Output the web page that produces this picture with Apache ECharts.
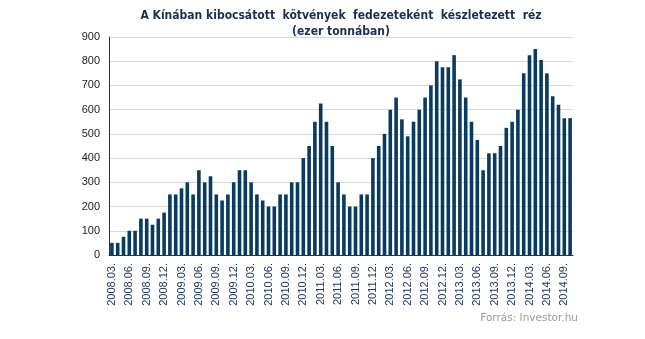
<!DOCTYPE html>
<html>
<head>
<meta charset="utf-8">
<script src="https://cdn.jsdelivr.net/npm/echarts@6/dist/echarts.min.js"></script>
<style>
  html, body { margin: 0; padding: 0; background: #fff; }
  #chart { width: 645px; height: 339px; }
</style>
</head>
<body>
<div id="chart"></div>
<script>
// Monthly copper stock held as collateral for bonds issued in China (thousand tonnes)
const startYear = 2008;
const startMonth = 3;
const stockValues = [
  50, 50, 75, 100, 100, 150, 150, 125, 150, 175,          // 2008.03 – 2008.12
  250, 250, 275, 300, 250, 350, 300, 325, 250, 225, 250, 300, // 2009
  350, 350, 300, 250, 225, 200, 200, 250, 250, 300, 300, 400, // 2010
  450, 550, 625, 550, 450, 300, 250, 200, 200, 250, 250, 400, // 2011
  450, 500, 600, 650, 560, 490, 550, 600, 650, 700, 800, 775, // 2012
  775, 825, 725, 650, 550, 475, 350, 420, 420, 450, 525, 550, // 2013
  600, 750, 825, 850, 805, 750, 655, 620, 565, 565          // 2014.01 – 2014.10
];
const yTicks = [0, 100, 200, 300, 400, 500, 600, 700, 800, 900];

// Category labels "YYYY.MM." built from the start month
const months = stockValues.map((_, i) => {
  const m = startMonth - 1 + i;
  const y = startYear + Math.floor(m / 12);
  const mm = (m % 12) + 1;
  return y + '.' + (mm < 10 ? '0' + mm : mm) + '.';
});

const chart = echarts.init(document.getElementById('chart'));
chart.setOption({
  animation: false,
  backgroundColor: '#ffffff',
  title: {
    text: 'A Kínában kibocsátott  kötvények  fedezeteként  készletezett  réz\n(ezer tonnában)',
    left: 336,
    textAlign: 'center',
    top: 3,
    textStyle: {
      fontFamily: '"DejaVu Sans Condensed", "DejaVu Sans"',
      fontWeight: 'bold',
      fontSize: 12,
      color: '#1b2f4e',
      lineHeight: 16
    }
  },
  grid: { left: 109, right: 72, top: 37, bottom: 84 },
  xAxis: {
    type: 'category',
    data: months,
    boundaryGap: true,
    axisLine: { show: true, lineStyle: { color: '#0b3b5e', width: 1 } },
    axisTick: { show: false },
    axisLabel: {
      interval: 2,
      rotate: 90,
      fontFamily: 'Liberation Sans',
      fontSize: 11,
      color: '#1f3864',
      margin: 8
    }
  },
  yAxis: {
    type: 'value',
    min: yTicks[0],
    max: yTicks[yTicks.length - 1],
    interval: 100,
    axisLine: { show: true, lineStyle: { color: '#0b3b5e', width: 1 } },
    axisTick: { show: false },
    axisLabel: {
      fontFamily: 'Liberation Sans',
      fontSize: 11,
      color: '#222222',
      margin: 9
    },
    splitLine: { lineStyle: { color: '#d9d9d9', width: 1 } }
  },
  series: [{
    type: 'bar',
    data: stockValues,
    barCategoryGap: '38%',
    itemStyle: { color: '#083b5f' }
  }],
  graphic: [{
    type: 'text',
    right: 67,
    top: 313,
    style: {
      text: 'Forrás: Investor.hu',
      font: '10.5px "DejaVu Sans"',
      fill: '#9a9a9a'
    }
  }]
});
</script>
</body>
</html>
